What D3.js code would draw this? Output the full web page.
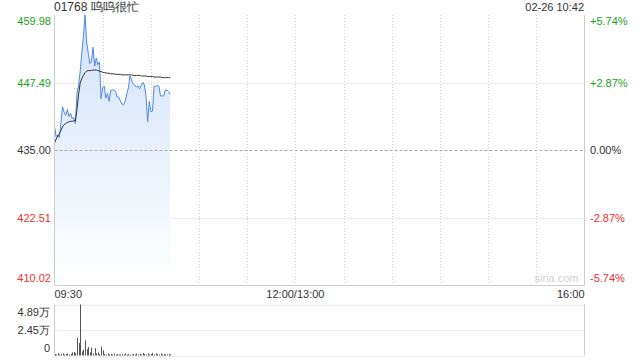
<!DOCTYPE html>
<html>
<head>
<meta charset="utf-8">
<script src="https://cdn.jsdelivr.net/npm/d3@7"></script>
<style>
    body { margin: 0; background: #fff; }
    text { font-family: "Liberation Sans", Arial, sans-serif; }
    .gridLine { stroke: #ccc; stroke-dasharray: 1,2; }
    .zeroLine { stroke: #aaa; stroke-dasharray: 3,2; }
    .frame { stroke: #ccc; fill: none; }
</style>
</head>
<body>
<script>
(function(){
    //pseudo-global variables
    var title = "01768 呜呜很忙",
        stamp = "02-26 10:42",
        prevClose = 435.00;

    //price tick labels (left) and percent labels (right)
    var priceTicks = [459.98, 447.49, 435.00, 422.51, 410.02];
    var pctTicks = ["+5.74%", "+2.87%", "0.00%", "-2.87%", "-5.74%"];
    var volTicks = [4.89, 2.45, 0];
    var volLabels = ["4.89万", "2.45万", "0"];
    var timeLabels = ["09:30", "12:00/13:00", "16:00"];
    var timeTickMinutes = [0, 150, 330];

    //minute prices from 09:30 to 10:42
    var price = [439.4, 437.5, 437.8, 437.3, 440.0, 443.0, 442.0, 441.4, 442.5, 441.2,
        441.8, 440.8, 441.0, 439.9, 445.5, 447.0, 449.5, 453.0, 456.0, 459.98,
        455.0, 453.0, 451.0, 451.5, 454.0, 450.5, 452.0, 450.8, 451.3, 444.5,
        446.6, 446.8, 444.6, 445.5, 444.0, 446.0, 446.1, 446.1, 445.8, 444.8,
        444.8, 444.1, 443.5, 443.4, 444.0, 445.4, 446.5, 448.7, 448.0, 447.2,
        447.0, 446.6, 446.9, 446.3, 447.0, 447.5, 447.0, 445.0, 440.2, 444.0,
        442.1, 442.2, 446.8, 446.8, 446.9, 446.8, 445.0, 445.0, 445.0, 446.1,
        446.1, 445.8, 445.3];

    //average price line
    var avgPrice = [436.3, 437.0, 437.6, 438.0, 438.6, 439.3, 439.7, 439.9, 440.1, 440.2,
        440.3, 440.3, 440.4, 440.4, 442.5, 445.3, 447.4, 448.2, 448.8, 449.3,
        449.6, 449.7, 449.7, 449.7, 449.8, 449.8, 449.8, 449.7, 449.6, 449.5,
        449.4, 449.3, 449.3, 449.2, 449.2, 449.1, 449.1, 449.1, 449.0, 449.0,
        449.0, 449.0, 448.9, 448.9, 448.9, 448.9, 448.9, 448.9, 448.9, 448.8,
        448.8, 448.8, 448.8, 448.8, 448.7, 448.7, 448.7, 448.7, 448.6, 448.6,
        448.6, 448.6, 448.5, 448.5, 448.5, 448.5, 448.5, 448.4, 448.4, 448.4,
        448.4, 448.4, 448.4];

    //volume per minute (万)
    var volume = [0.15, 0.10, 0.20, 0.10, 0.15, 0.20, 0.10, 0.15, 0.20, 0.10,
        0.15, 0.30, 0.35, 0.25, 1.70, 1.20, 4.89, 0.40, 0.55, 1.45,
        0.60, 0.80, 0.30, 0.75, 0.20, 0.70, 0.20, 0.30, 0.15, 0.85,
        0.50, 0.15, 0.10, 0.20, 0.10, 0.15, 0.10, 0.20, 0.10, 0.15,
        0.10, 0.10, 0.15, 0.10, 0.20, 0.10, 0.15, 0.10, 0.10, 0.15,
        0.10, 0.20, 0.10, 0.15, 0.10, 0.25, 0.15, 0.10, 0.20, 0.10,
        0.15, 0.25, 0.10, 0.20, 0.15, 0.10, 0.20, 0.10, 0.15, 0.10,
        0.10, 0.15, 0.10];

    var green = "#1aa31a", red = "#f23030", dark = "#333";

    window.onload = setChart();

    function setChart(){
        var width = 640, height = 360,
            left = 54.5, right = 584.5,
            top = 15, bottom = 285,
            volTop = 304.5, volBottom = 355.5;

        var svg = d3.select("body")
            .append("svg")
            .attr("width", width)
            .attr("height", height);

        var x = d3.scaleLinear().domain([0, 330]).range([left, right]);
        var y = d3.scaleLinear().domain([410.02, 459.98]).range([bottom, top]);
        var yVol = d3.scaleLinear().domain([0, 4.89]).range([volBottom, volTop]);

        //gradient for area under price line
        var grad = svg.append("defs").append("linearGradient")
            .attr("id", "areaGrad")
            .attr("x1", 0).attr("y1", 0).attr("x2", 0).attr("y2", 1);
        grad.append("stop").attr("offset", "0%").attr("stop-color", "#d2e2fa");
        grad.append("stop").attr("offset", "100%").attr("stop-color", "#ffffff");

        //vertical grid lines every 30 minutes
        var vTicks = d3.range(30, 330, 30);
        svg.selectAll(".vGrid")
            .data(vTicks)
            .enter()
            .append("line")
            .attr("class", "gridLine")
            .attr("x1", function(d){ return Math.round(x(d)) + 0.5; })
            .attr("x2", function(d){ return Math.round(x(d)) + 0.5; })
            .attr("y1", top)
            .attr("y2", bottom);

        //horizontal grid lines
        svg.selectAll(".hGrid")
            .data([priceTicks[1], priceTicks[3]])
            .enter()
            .append("line")
            .attr("class", "gridLine")
            .attr("x1", left).attr("x2", right)
            .attr("y1", function(d){ return Math.round(y(d)) + 0.5; })
            .attr("y2", function(d){ return Math.round(y(d)) + 0.5; });

        //area + lines
        var minutes = d3.range(price.length);
        var area = d3.area()
            .x(function(i){ return x(i); })
            .y0(bottom)
            .y1(function(i){ return y(price[i]); });
        svg.append("path")
            .datum(minutes)
            .attr("d", area)
            .attr("fill", "url(#areaGrad)");

        svg.append("line")
            .attr("class", "zeroLine")
            .attr("x1", left).attr("x2", right)
            .attr("y1", Math.round(y(prevClose)) + 0.5)
            .attr("y2", Math.round(y(prevClose)) + 0.5);

        var priceLine = d3.line()
            .x(function(i){ return x(i); })
            .y(function(i){ return y(price[i]); });
        svg.append("path")
            .datum(minutes)
            .attr("d", priceLine)
            .attr("fill", "none")
            .attr("stroke", "#4a88ec")
            .attr("stroke-width", 1);

        var avgLine = d3.line()
            .x(function(i){ return x(i); })
            .y(function(i){ return y(avgPrice[i]); });
        svg.append("path")
            .datum(minutes)
            .attr("d", avgLine)
            .attr("fill", "none")
            .attr("stroke", "#333")
            .attr("stroke-width", 1);

        //frame of price panel (no top edge)
        svg.append("path")
            .attr("class", "frame")
            .attr("d", "M" + left + "," + top + "V" + (bottom + 0.5) + "H" + right + "V" + top);

        //watermark
        svg.append("text")
            .attr("x", right - 6)
            .attr("y", bottom - 3)
            .attr("text-anchor", "end")
            .attr("font-size", 11)
            .attr("fill", "#d0d0d0")
            .text("sina.com");

        //price labels left, percent labels right
        function labelColor(i){ return i < 2 ? green : (i > 2 ? red : dark); }
        function labelY(d, i){
            var yy = y(d) + 4;
            if (i == 0) yy = top + 10;
            if (i == priceTicks.length - 1) yy = bottom - 3;
            return yy;
        }
        svg.selectAll(".priceLabel")
            .data(priceTicks)
            .enter()
            .append("text")
            .attr("x", 51)
            .attr("y", labelY)
            .attr("text-anchor", "end")
            .attr("font-size", 11)
            .attr("fill", function(d, i){ return labelColor(i); })
            .text(function(d){ return d.toFixed(2); });

        svg.selectAll(".pctLabel")
            .data(pctTicks)
            .enter()
            .append("text")
            .attr("x", 590)
            .attr("y", function(d, i){ return labelY(priceTicks[i], i); })
            .attr("font-size", 11)
            .attr("fill", function(d, i){ return labelColor(i); })
            .text(function(d){ return d; });

        //title and timestamp
        svg.append("text")
            .attr("x", 54)
            .attr("y", 11)
            .attr("font-size", 12)
            .attr("fill", dark)
            .text(title);
        svg.append("text")
            .attr("x", 584)
            .attr("y", 11)
            .attr("text-anchor", "end")
            .attr("font-size", 11)
            .attr("fill", dark)
            .text(stamp);

        //time axis labels
        svg.selectAll(".timeLabel")
            .data(timeLabels)
            .enter()
            .append("text")
            .attr("x", function(d, i){ return x(timeTickMinutes[i]); })
            .attr("y", 298)
            .attr("text-anchor", function(d, i){ return ["start", "middle", "end"][i]; })
            .attr("font-size", 11)
            .attr("fill", dark)
            .text(function(d){ return d; });

        //volume panel
        svg.selectAll(".volGrid")
            .data(volTicks)
            .enter()
            .append("line")
            .attr("class", "gridLine")
            .attr("x1", left).attr("x2", right)
            .attr("y1", function(d){ return Math.round(yVol(d)) + 0.5; })
            .attr("y2", function(d){ return Math.round(yVol(d)) + 0.5; });
        svg.append("line").attr("class", "frame")
            .attr("x1", left).attr("x2", left).attr("y1", volTop).attr("y2", volBottom);
        svg.append("line").attr("class", "frame")
            .attr("x1", right).attr("x2", right).attr("y1", volTop).attr("y2", volBottom);

        svg.selectAll(".volLabel")
            .data(volLabels)
            .enter()
            .append("text")
            .attr("x", 50)
            .attr("y", function(d, i){ return [yVol(volTicks[0]) + 11, yVol(volTicks[1]) + 4, yVol(0) - 4][i]; })
            .attr("text-anchor", "end")
            .attr("font-size", 11)
            .attr("fill", dark)
            .text(function(d){ return d; });

        svg.selectAll(".volBar")
            .data(volume)
            .enter()
            .append("rect")
            .attr("x", function(d, i){ return Math.round(x(i)); })
            .attr("y", function(d){ return yVol(d); })
            .attr("width", 1)
            .attr("height", function(d){ return volBottom - yVol(d); })
            .attr("fill", "#555");
    };
})();
</script>
</body>
</html>
